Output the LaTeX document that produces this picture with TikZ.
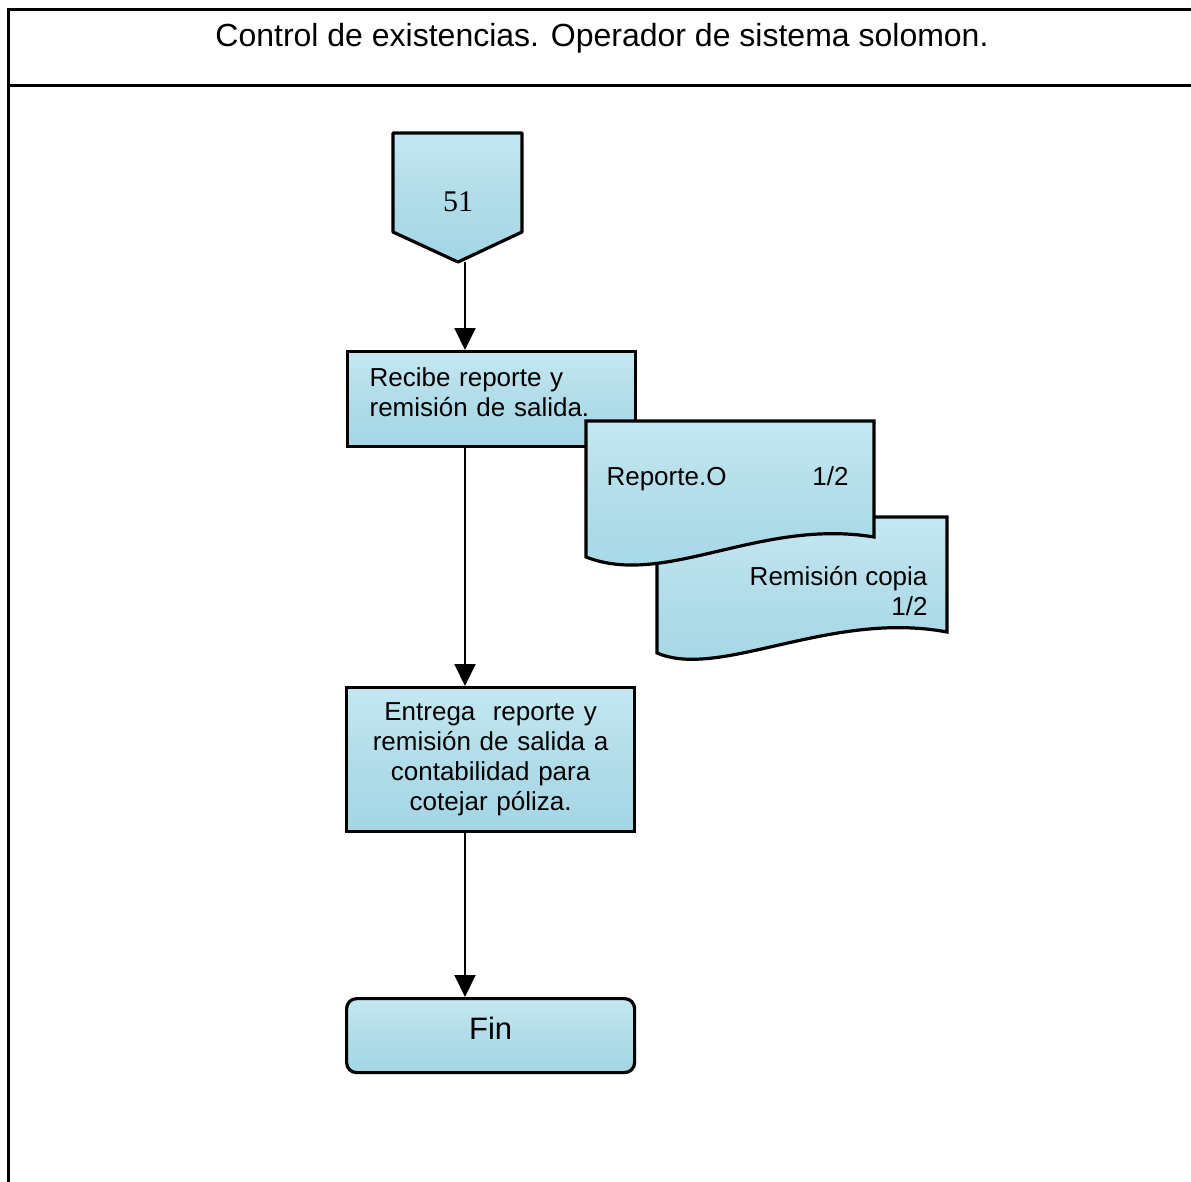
\documentclass[tikz,border=0pt]{standalone}
\usepackage{fontspec}
\setmainfont{Liberation Sans}
\newfontfamily\numfont{Liberation Serif}
\usetikzlibrary{arrows.meta,positioning}
\definecolor{agua}{RGB}{164,214,229}
\definecolor{aguaclara}{RGB}{196,232,241}
\tikzset{
  agua fill/.style={top color=aguaclara,bottom color=agua,middle color=agua!85!white},
  proceso/.style={draw=black,line width=3.2pt,agua fill,minimum width=288pt},
  doc/.style={draw=black,line width=3.2pt,agua fill},
  flecha/.style={-{Triangle[length=22pt,width=21pt]},line width=2pt},
  txt/.style={font=\fontsize{26}{30}\selectfont}
}

\begin{document}
\begin{tikzpicture}[x=1pt,y=-1pt]
\useasboundingbox (0,0) rectangle (1191,1182);
% \draw[help lines,step=100] (0,0) grid (1191,1182);
% marco y encabezado
\draw[line width=3pt] (1195,10) -- (8,10) -- (8,1190);
\draw[line width=3pt] (8,86) -- (1195,86);
\node (titulo) [font=\fontsize{32}{36}\selectfont] at (602,38) {Control de existencias. Operador de sistema solomon.};
%
% conector de otra pagina
\filldraw[doc,line join=round] (393,133) -- (522,133) -- (522,232) -- (458,262) -- (393,232) -- cycle;
\node (c51) [font=\numfont\fontsize{30}{34}\selectfont] at (458,202) {51};
\coordinate (c51tip) at (465,262);
%
\node (recibe) [proceso,txt,anchor=north west,minimum height=95pt,text width=244pt,inner xsep=22pt,text depth=44pt,align=left] at (346,350)
  {Recibe reporte y\\remisión de salida.};
%
% documentos: la copia va debajo
\filldraw[doc] (657,517) -- (947,517) -- (947,632) .. controls (830,610) and (720,680) .. (657,653) -- cycle;
\filldraw[doc] (586,421) -- (874,421) -- (874,537) .. controls (760,518) and (665,588) .. (586,557) -- cycle;
\node (reporte) [txt,anchor=west] at (603,479) {Reporte.O\hspace{86pt}1/2};
\node (remision) [txt,anchor=east,align=right] at (931,591) {Remisión copia\\1/2};
%
\node (entrega) [proceso,txt,anchor=north west,minimum height=144pt,text width=270pt,align=center] at (345,686)
  {Entrega~ reporte y\\remisión de salida a\\contabilidad para\\cotejar póliza.};
\node (fin) [proceso,rounded corners=10pt,anchor=north west,minimum height=74pt,text depth=14pt,font=\fontsize{31}{34}\selectfont] at (345,997) {Fin};
%
\path[flecha] (c51tip) edge (c51tip |- recibe.north);
\path[flecha] (recibe.south -| c51tip) edge (c51tip |- entrega.north);
\path[flecha] (entrega.south -| c51tip) edge (c51tip |- fin.north);
\end{tikzpicture}
\end{document}
